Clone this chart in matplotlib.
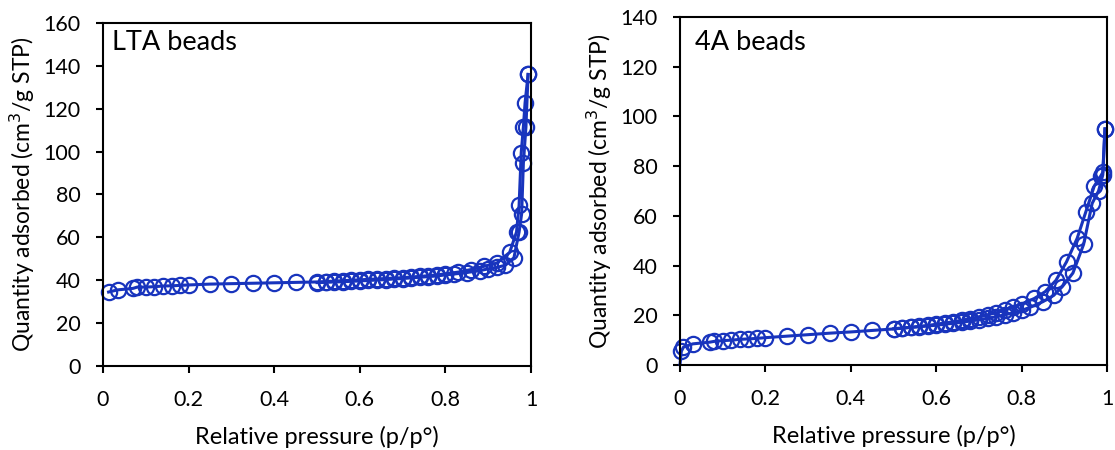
import matplotlib
matplotlib.use("Agg")
import matplotlib.pyplot as plt

plt.rcParams["font.family"] = ["Lato", "DejaVu Sans"]

# LTA beads: adsorption and desorption branches
lta_ads_p = [0.013, 0.034, 0.07, 0.08, 0.10, 0.12, 0.14, 0.16, 0.18, 0.20, 0.25, 0.30,
             0.35, 0.40, 0.45, 0.50, 0.52, 0.54, 0.56, 0.58, 0.60, 0.62, 0.64, 0.66,
             0.68, 0.70, 0.72, 0.74, 0.76, 0.78, 0.80, 0.83, 0.86, 0.89, 0.92, 0.95,
             0.966, 0.972, 0.977, 0.982, 0.986, 0.993]
lta_ads_q = [34.5, 35.5, 36.2, 36.8, 36.8, 37.0, 37.3, 37.4, 37.6, 37.8, 38.2, 38.4,
             38.6, 38.8, 39.0, 39.2, 39.4, 39.6, 39.8, 40.0, 40.2, 40.4, 40.6, 40.8,
             41.0, 41.2, 41.5, 41.8, 42.1, 42.5, 43.0, 43.8, 45.0, 46.5, 48.0, 53.0,
             62.5, 75.0, 99.5, 111.5, 122.8, 136.0]
lta_des_p = [0.993, 0.988, 0.982, 0.978, 0.972, 0.96, 0.94, 0.92, 0.90, 0.88, 0.85,
             0.82, 0.80, 0.78, 0.76, 0.74, 0.72, 0.70, 0.68, 0.66, 0.64, 0.62, 0.60,
             0.58, 0.56, 0.54, 0.52, 0.50]
lta_des_q = [136.0, 111.5, 94.5, 71.0, 62.5, 50.5, 47.0, 46.0, 45.3, 44.5, 43.6,
             42.9, 42.5, 42.0, 41.7, 41.4, 41.1, 40.8, 40.6, 40.3, 40.1, 39.9, 39.7,
             39.5, 39.3, 39.2, 39.0, 38.9]

# 4A beads: adsorption and desorption branches
a4_ads_p = [0.0, 0.003, 0.008, 0.03, 0.07, 0.08, 0.10, 0.12, 0.14, 0.16, 0.18, 0.20,
            0.25, 0.30, 0.35, 0.40, 0.45, 0.50, 0.52, 0.54, 0.56, 0.58, 0.60, 0.62,
            0.64, 0.66, 0.68, 0.70, 0.72, 0.74, 0.76, 0.78, 0.80, 0.82, 0.85, 0.875,
            0.895, 0.92, 0.945, 0.965, 0.98, 0.99, 0.995]
a4_ads_q = [0.3, 5.5, 7.2, 8.5, 9.2, 9.5, 9.8, 10.0, 10.3, 10.5, 10.7, 11.0,
            11.6, 12.2, 12.8, 13.3, 13.9, 14.5, 14.8, 15.1, 15.4, 15.7, 16.0, 16.4,
            16.8, 17.2, 17.7, 18.2, 18.8, 19.4, 20.2, 21.0, 22.0, 23.2, 25.5, 28.0,
            31.5, 37.0, 48.5, 65.0, 70.0, 76.5, 95.0]
a4_des_p = [0.995, 0.99, 0.985, 0.97, 0.95, 0.93, 0.905, 0.88, 0.855, 0.83, 0.80,
            0.78, 0.76, 0.74, 0.72, 0.70, 0.68, 0.66, 0.64, 0.62, 0.60, 0.58, 0.56,
            0.54, 0.52, 0.50]
a4_des_q = [95.0, 77.5, 76.0, 72.0, 61.5, 51.0, 41.5, 34.0, 29.5, 26.8, 24.5,
            23.2, 22.0, 21.0, 20.2, 19.4, 18.7, 18.0, 17.4, 16.9, 16.4, 15.9, 15.5,
            15.2, 14.9, 14.6]

blue = "#1834bd"
fig = plt.figure(figsize=(11.15, 4.5), dpi=100)


def panel(rect, branches, ymax, label, label_xy):
    ax = fig.add_axes(rect)
    for p, q, start in branches:
        ax.plot(p, q, "-", color=blue, lw=2.2, marker="o", ms=11, mfc="none",
                mec=blue, mew=1.6, markevery=slice(start, None), clip_on=False)
    ax.set_xlim(0, 1)
    ax.set_ylim(0, ymax)
    ax.set_xticks([0, 0.2, 0.4, 0.6, 0.8, 1])
    ax.set_xticklabels(["0", "0.2", "0.4", "0.6", "0.8", "1"])
    ax.set_yticks(range(0, ymax + 1, 20))
    ax.tick_params(labelsize=15.5, length=5, width=1.5, colors="black")
    ax.tick_params(axis="x", pad=12)
    ax.tick_params(axis="y", pad=11)
    for s in ax.spines.values():
        s.set_linewidth(1.5)
    ax.set_xlabel("Relative pressure (p/p°)", fontsize=17, labelpad=12)
    ax.set_ylabel("Quantity adsorbed (cm$^3$/g STP)", fontsize=16.5, labelpad=5)
    ax.text(label_xy[0], label_xy[1], label, transform=ax.transAxes,
            fontsize=19.5, va="center", ha="left")
    return ax


panel([0.0924, 0.1867, 0.3839, 0.7622],
      [(lta_ads_p, lta_ads_q, 0), (lta_des_p, lta_des_q, 0)],
      160, "LTA beads", (0.021, 0.942))
panel([0.6099, 0.1889, 0.383, 0.7733],
      [(a4_ads_p, a4_ads_q, 1), (a4_des_p, a4_des_q, 0)],
      140, "4A beads", (0.035, 0.927))

fig.savefig("out.png", dpi=100)
